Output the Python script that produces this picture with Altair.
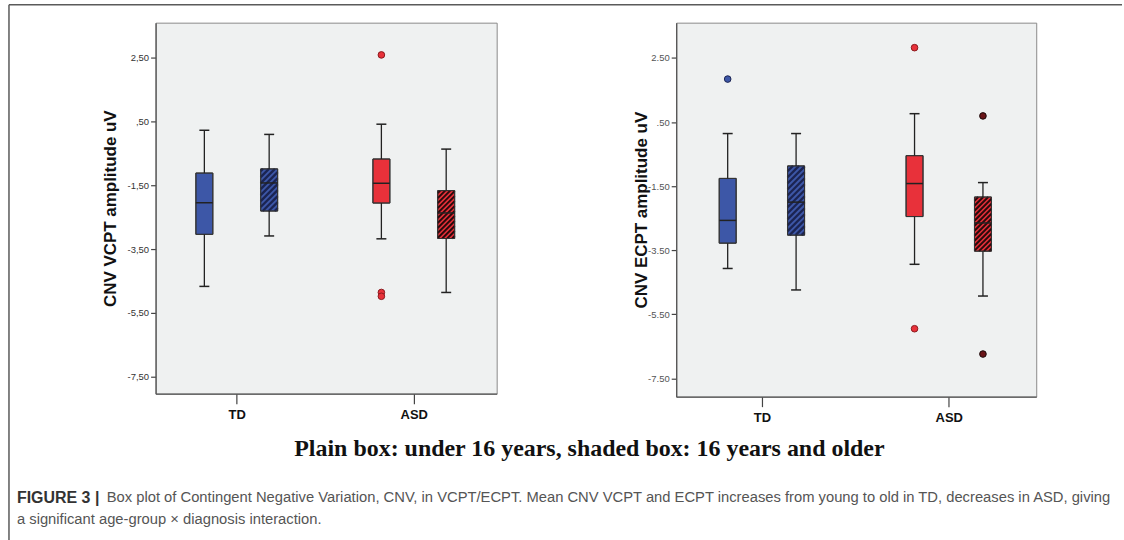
import altair as alt
import pandas as pd

# ---------------- data ----------------
groups = ["TD", "TD", "ASD", "ASD"]
ages = ["under 16", "16 and older", "under 16", "16 and older"]

# CNV VCPT amplitude (uV) - left panel
vcpt_lo = [-4.67, -3.09, -3.18, -4.86]
vcpt_q1 = [-3.04, -2.31, -2.06, -3.17]
vcpt_med = [-2.05, -1.43, -1.44, -2.37]
vcpt_q3 = [-1.12, -0.99, -0.68, -1.67]
vcpt_hi = [0.22, 0.09, 0.41, -0.37]
vcpt_out_group = ["ASD", "ASD", "ASD"]
vcpt_out_age = ["under 16", "under 16", "under 16"]
vcpt_out_val = [2.58, -4.86, -4.98]

# CNV ECPT amplitude (uV) - right panel
ecpt_lo = [-4.07, -4.74, -3.94, -4.93]
ecpt_q1 = [-3.28, -3.03, -2.45, -3.53]
ecpt_med = [-2.57, -2.00, -1.42, -2.65]
ecpt_q3 = [-1.26, -0.87, -0.55, -1.84]
ecpt_hi = [0.14, 0.14, 0.76, -1.39]
ecpt_out_group = ["TD", "ASD", "ASD", "ASD", "ASD"]
ecpt_out_age = ["under 16", "under 16", "under 16", "16 and older", "16 and older"]
ecpt_out_val = [1.84, 2.82, -5.95, 0.69, -6.74]

y_ticks = [2.5, 0.5, -1.5, -3.5, -5.5, -7.5]
vcpt_tick_labels = ["2,50", ",50", "-1,50", "-3,50", "-5,50", "-7,50"]
ecpt_tick_labels = ["2.50", ".50", "-1.50", "-3.50", "-5.50", "-7.50"]
x_categories = ["TD", "ASD"]

legend_text = "Plain box: under 16 years, shaded box: 16 years and older"
caption_bold = "FIGURE 3 |"
caption_line1 = ("Box plot of Contingent Negative Variation, CNV, in VCPT/ECPT. Mean CNV VCPT and ECPT "
                 "increases from young to old in TD, decreases in ASD, giving")
caption_line2 = "a significant age-group \u00d7 diagnosis interaction."

# ---------------- layout / style constants ----------------
GROUP_CENTER = {"TD": 0.238, "ASD": 0.757}
AGE_OFFSET = {"under 16": -0.095, "16 and older": 0.095}
BOX_HALF_PX = 8.5
CAP_HALF_PX = 5.0
FILL = {"TD": "#3d57a7", "ASD": "#e8313a"}
HATCH_COL = {"TD": "#1b2452", "ASD": "#2a0a0c"}
HATCH_STEP = {"TD": 6.0, "ASD": 5.0}
HATCH_W = {"TD": 2.3, "ASD": 2.0}
OUT_FILL = {("TD", "under 16"): "#3d57a7", ("ASD", "under 16"): "#e8313a",
            ("TD", "16 and older"): "#1b2452", ("ASD", "16 and older"): "#6a1518"}
OUT_STROKE = {("TD", "under 16"): "#1b2452", ("ASD", "under 16"): "#8a1a1e",
              ("TD", "16 and older"): "#111111", ("ASD", "16 and older"): "#1a0a0a"}


def label_expr(values, labels):
    parts = [f"datum.value == {v} ? '{l}'" for v, l in zip(values, labels)]
    return " : ".join(parts) + " : ''"


def hatch_segments(rows, W, H, ydom):
    ppy = H / (ydom[1] - ydom[0])
    out = []
    for g, x0, x1, v0, v1 in rows:
        step = HATCH_STEP[g]
        u0, u1 = x0 * W, x1 * W
        w0, w1 = (v0 - ydom[0]) * ppy, (v1 - ydom[0]) * ppy
        c = w0 - u1 + step / 2
        while c < w1 - u0:
            ua = max(u0, w0 - c)
            ub = min(u1, w1 - c)
            if ub > ua:
                out.append(dict(xa=ua / W, xb=ub / W,
                                ya=ydom[0] + (ua + c) / ppy, yb=ydom[0] + (ub + c) / ppy,
                                col=HATCH_COL[g], sw=HATCH_W[g]))
            c += step
    return pd.DataFrame(out)


def panel(lo, q1, med, q3, hi, og, oa, ov, W, H, ydom, ytitle, tick_labels,
          title_dx, label_color, extra=None):
    hw = BOX_HALF_PX / W
    cw = CAP_HALF_PX / W
    pos = [GROUP_CENTER[g] + AGE_OFFSET[a] for g, a in zip(groups, ages)]
    box = pd.DataFrame({
        "group": groups, "age": ages, "pos": pos,
        "x0": [p - hw for p in pos], "x1": [p + hw for p in pos],
        "c0": [p - cw for p in pos], "c1": [p + cw for p in pos],
        "lo": lo, "q1": q1, "med": med, "q3": q3, "hi": hi,
        "fill": [FILL[g] for g in groups],
    })
    shaded = [(g, p - hw, p + hw, a1, a3) for g, a, p, a1, a3 in zip(groups, ages, pos, q1, q3)
              if a == "16 and older"]
    hatch = hatch_segments(shaded, W, H, ydom)
    outl = pd.DataFrame({
        "pos": [GROUP_CENTER[g] + AGE_OFFSET[a] for g, a in zip(og, oa)],
        "val": ov,
        "f": [OUT_FILL[(g, a)] for g, a in zip(og, oa)],
        "s": [OUT_STROKE[(g, a)] for g, a in zip(og, oa)],
    })

    xscale = alt.Scale(domain=[0, 1], nice=False, zero=False)
    yscale = alt.Scale(domain=ydom, nice=False, zero=False)
    xaxis = alt.Axis(values=[GROUP_CENTER[c] for c in x_categories],
                     labelExpr=f"datum.value < 0.5 ? '{x_categories[0]}' : '{x_categories[1]}'",
                     title=None, grid=False, tickSize=10, tickColor="#444", tickWidth=1.2,
                     labelFont="Liberation Sans", labelFontSize=13, labelFontWeight="bold",
                     labelColor="#111", labelPadding=5, domainColor="#555", domainWidth=1.3)
    yaxis = alt.Axis(values=y_ticks, labelExpr=label_expr(y_ticks, tick_labels),
                     title=ytitle, grid=False, tickSize=5, tickColor="#444", tickWidth=1.2,
                     labelFont="Liberation Sans", labelFontSize=9.5, labelColor=label_color,
                     labelPadding=2, domainColor="#555", domainWidth=1.3,
                     titleFont="Liberation Sans", titleFontSize=17, titleFontWeight="bold",
                     titleColor="#111", titleAngle=270, titleX=title_dx, titleY=H / 2,
                     titleAlign="center", titleBaseline="middle")

    def X(f):
        return alt.X(f, type="quantitative", scale=xscale, axis=xaxis)

    def Y(f):
        return alt.Y(f, type="quantitative", scale=yscale, axis=yaxis)

    layers = [
        alt.Chart(box).mark_rect(stroke="#333", strokeWidth=1).encode(
            x=X("x0"), x2=alt.X2("x1"), y=Y("q1"), y2=alt.Y2("q3"),
            color=alt.Color("fill:N", scale=None)),
        alt.Chart(hatch).mark_rule().encode(
            x=X("xa"), x2=alt.X2("xb"), y=Y("ya"), y2=alt.Y2("yb"),
            color=alt.Color("col:N", scale=None),
            strokeWidth=alt.StrokeWidth("sw:Q", scale=None)),
        alt.Chart(box).mark_rect(fillOpacity=0, stroke="#333", strokeWidth=1).encode(
            x=X("x0"), x2=alt.X2("x1"), y=Y("q1"), y2=alt.Y2("q3")),
        alt.Chart(box).mark_rule(color="#222", strokeWidth=1.3).encode(
            x=X("pos"), y=Y("lo"), y2=alt.Y2("q1")),
        alt.Chart(box).mark_rule(color="#222", strokeWidth=1.3).encode(
            x=X("pos"), y=Y("q3"), y2=alt.Y2("hi")),
        alt.Chart(box).mark_rule(color="#222", strokeWidth=1.5).encode(
            x=X("c0"), x2=alt.X2("c1"), y=Y("lo")),
        alt.Chart(box).mark_rule(color="#222", strokeWidth=1.5).encode(
            x=X("c0"), x2=alt.X2("c1"), y=Y("hi")),
        alt.Chart(box).mark_rule(color="#222", strokeWidth=1.5).encode(
            x=X("x0"), x2=alt.X2("x1"), y=Y("med")),
        alt.Chart(outl).mark_circle(size=44, opacity=1, strokeWidth=1).encode(
            x=X("pos"), y=Y("val"),
            fill=alt.Fill("f:N", scale=None), stroke=alt.Stroke("s:N", scale=None)),
    ]
    if extra:
        layers += extra
    return alt.layer(*layers).properties(width=W, height=H)


# decorations drawn relative to the left plot's origin
frame_col = "#5a5a5a"
deco_df = pd.DataFrame({"legend": [legend_text], "cb": [caption_bold],
                        "c1": [caption_line1], "c2": [caption_line2]})
deco = [
    alt.Chart(deco_df).mark_rule(color=frame_col, strokeWidth=1.5).encode(
        x=alt.value(-147), x2=alt.value(969), y=alt.value(-18), y2=alt.value(-18)),
    alt.Chart(deco_df).mark_rule(color=frame_col, strokeWidth=1.5).encode(
        x=alt.value(-147), x2=alt.value(-147), y=alt.value(-18), y2=alt.value(519)),
    alt.Chart(deco_df).mark_text(font="Liberation Serif", fontSize=24, fontWeight="bold",
                                 color="#111", align="center", baseline="middle").encode(
        x=alt.value(435), y=alt.value(427), text="legend:N"),
    alt.Chart(deco_df).mark_text(font="Liberation Sans", fontSize=16, fontWeight="bold",
                                 color="#333", align="left", baseline="middle").encode(
        x=alt.value(-139), y=alt.value(477), text="cb:N"),
    alt.Chart(deco_df).mark_text(font="Liberation Sans", fontSize=14.8,
                                 color="#555", align="left", baseline="middle").encode(
        x=alt.value(-49), y=alt.value(477), text="c1:N"),
    alt.Chart(deco_df).mark_text(font="Liberation Sans", fontSize=14.8,
                                 color="#555", align="left", baseline="middle").encode(
        x=alt.value(-139), y=alt.value(499), text="c2:N"),
]

left = panel(vcpt_lo, vcpt_q1, vcpt_med, vcpt_q3, vcpt_hi,
             vcpt_out_group, vcpt_out_age, vcpt_out_val,
             342, 372, [-8.03, 3.59], "CNV VCPT amplitude uV", vcpt_tick_labels,
             -45, "#333", extra=deco)
right = panel(ecpt_lo, ecpt_q1, ecpt_med, ecpt_q3, ecpt_hi,
              ecpt_out_group, ecpt_out_age, ecpt_out_val,
              361, 375, [-8.07, 3.6], "CNV ECPT amplitude uV", ecpt_tick_labels,
              -35, "#555")

chart = alt.hconcat(left, right, spacing=180, bounds="flush").properties(
    padding={"left": 7, "top": 2, "right": 0, "bottom": 0},
    background="white",
).configure_view(fill="#eff1f1", stroke="#8a8a8a", strokeWidth=1)

chart.save("out.html", embed_options={"renderer": "svg", "actions": False})
